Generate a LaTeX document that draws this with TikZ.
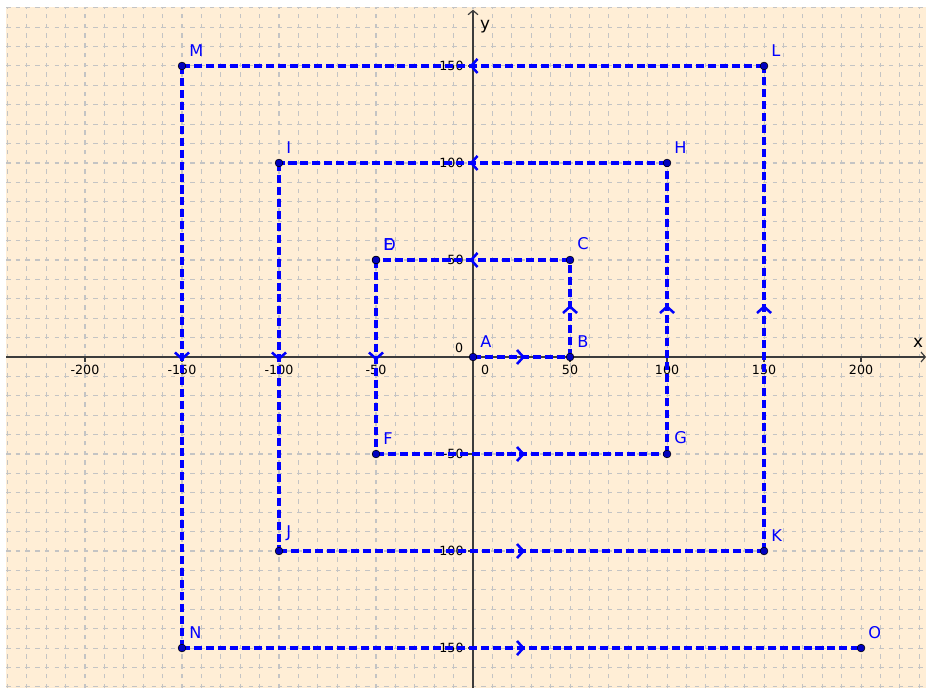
\documentclass[tikz,border=0pt]{standalone}
\usepackage{fontspec}
\setmainfont{DejaVu Sans}
\usetikzlibrary{arrows.meta,decorations.markings}
\definecolor{paper}{RGB}{255,238,214}
\definecolor{gridc}{RGB}{196,196,196}
\definecolor{pathc}{RGB}{0,0,255}
\definecolor{axisc}{RGB}{60,60,60}

\begin{document}
\begin{tikzpicture}[x=0.0485cm, y=0.0485cm,
    grd/.style={gridc, line width=0.75pt, dash pattern=on 3.2pt off 3.7pt},
    axis/.style={axisc, line width=0.85pt},
    vec/.style={pathc, line width=2.3pt, dash pattern=on 5.7pt off 2.8pt,
      postaction={decorate}, decoration={markings,
        mark=at position 0.5 with {\arrow[solid,pathc,xshift=2.5pt]{Straight Barb[length=4.5pt,width=10pt,line width=1.8pt]}}}},
    pt/.style={circle, fill=blue!75!black, draw=black, line width=0.4pt,
      inner sep=0pt, minimum size=5.5pt},
    lbl/.style={pathc, font=\fontsize{11.5}{12}\selectfont, inner sep=0pt},
    tick/.style={font=\fontsize{9}{10}\selectfont, inner sep=1pt},
  ]
  \useasboundingbox (-243.8,-171.6) rectangle (234.5,184.0);
  % paper and grid
  \fill[paper] (-240.7,-170.6) rectangle (233.5,180.4);
  \foreach \x in {-240,-230,...,230}
    \draw[grd] (\x,-170.6) -- (\x,180.4);
  \foreach \y in {-170,-160,...,180}
    \draw[grd] (-240.7,\y) -- (233.5,\y);

  % axes
  \draw[axis, -{Straight Barb[length=3pt,width=7pt]}] (-240.7,0) -- (233.5,0);
  \draw[axis, -{Straight Barb[length=3pt,width=7pt]}] (0,-170.6) -- (0,179);
  \foreach \x in {-200,-150,...,200}
    \draw[axis] (\x,0) -- (\x,-2.5);
  \foreach \y in {-150,-100,...,150}
    \draw[axis] (0,\y) -- (-2.5,\y);
  \foreach \x [count=\i] in {-200,-150,-100,-50,50,100,150,200}
    \node[tick] (xt\i) at (\x,-6.7) {\x};
  \foreach \y [count=\i] in {-150,-100,-50,50,100,150}
    \node[tick, anchor=east] (yt\i) at (-4,\y) {\y};
  \node[tick] (x0) at (6.2,-6.7) {0};
  \node[tick] (y0) at (-7.2,4.6) {0};
  \node[font=\fontsize{12}{12}\selectfont] (xl) at (229.4,7.2) {x};
  \node[font=\fontsize{12}{12}\selectfont] (yl) at (6.2,170.1) {y};

  % points of the spiral
  \foreach \p/\x/\y in {A/0/0, B/50/0, C/50/50, D/-50/50, E/-50/50,
      F/-50/-50, G/100/-50, H/100/100, I/-100/100, J/-100/-100,
      K/150/-100, L/150/150, M/-150/150, N/-150/-150, O/200/-150}
    \coordinate (\p) at (\x,\y);

  \foreach \s/\t in {A/B, B/C, C/D, E/F, F/G, G/H, H/I, I/J,
      J/K, K/L, L/M, M/N, N/O}
    \draw[vec] (\s) -- (\t);

  \foreach \p in {A,B,C,D,E,F,G,H,I,J,K,L,M,N,O} {
    \node[pt] (d\p) at (\p) {};
    \node[lbl, anchor=south west] (l\p) at ([shift={(3.6,4.9)}]\p) {\p};
  }
\end{tikzpicture}
\end{document}
